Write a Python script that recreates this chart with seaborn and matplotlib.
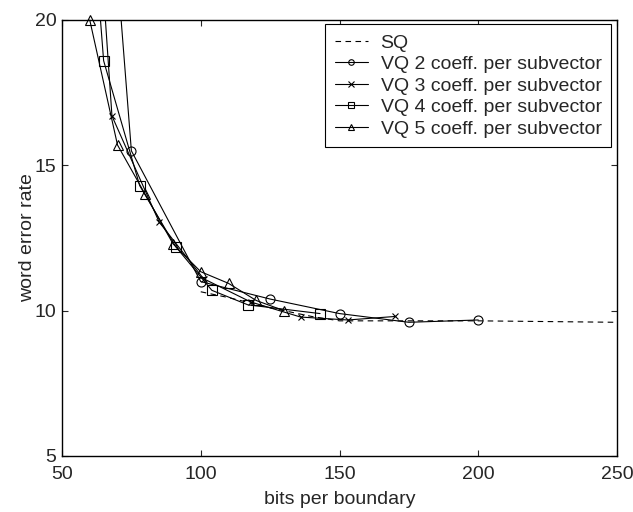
import matplotlib
matplotlib.use("Agg")
import matplotlib.pyplot as plt
import seaborn as sns
import pandas as pd

# ---- data ----
sq_x = [100, 110, 125, 140, 150, 175, 200, 250]
sq_y = [10.65, 10.45, 10.1, 9.8, 9.65, 9.65, 9.65, 9.6]

vq2_x = [65, 75, 100, 125, 150, 175, 200]
vq2_y = [27.7, 15.5, 11.0, 10.4, 9.9, 9.6, 9.68]

vq3_x = [63, 68, 85, 101, 118, 136, 153, 170]
vq3_y = [23.7, 16.7, 13.05, 11.1, 10.3, 9.78, 9.68, 9.8]

vq4_x = [62, 65, 78, 91, 104, 117, 143]
vq4_y = [22.3, 18.6, 14.3, 12.2, 10.7, 10.2, 9.9]

vq5_x = [60, 70, 80, 90, 100, 110, 120, 130]
vq5_y = [20.0, 15.7, 14.0, 12.3, 11.34, 10.94, 10.35, 10.0]

labels = ["SQ", "VQ 2 coeff. per subvector", "VQ 3 coeff. per subvector",
          "VQ 4 coeff. per subvector", "VQ 5 coeff. per subvector"]
x_ticks = [50, 100, 150, 200, 250]
y_ticks = [5, 10, 15, 20]

sns.set_style("ticks")
plt.rcParams["font.family"] = ["Liberation Sans", "DejaVu Sans"]
plt.rcParams["font.size"] = 14

fig = plt.figure(figsize=(6.33, 5.12), dpi=100)
ax = fig.add_axes([62 / 633, 1 - 456 / 512, 555 / 633, 436 / 512])

series = [
    (sq_x, sq_y, labels[0], None),
    (vq2_x, vq2_y, labels[1], "o"),
    (vq3_x, vq3_y, labels[2], "x"),
    (vq4_x, vq4_y, labels[3], "s"),
    (vq5_x, vq5_y, labels[4], "^"),
]

for xs, ys, lab, mk in series:
    df = pd.DataFrame({"x": xs, "y": ys})
    kw = dict(color="black", linewidth=0.8, estimator=None, sort=False, label=lab, ax=ax)
    if mk is None:
        sns.lineplot(data=df, x="x", y="y", linestyle=(0, (5, 4)), **kw)
    else:
        sns.lineplot(data=df, x="x", y="y", marker=mk, markersize=6.5 if mk != "x" else 5,
                     markerfacecolor="none", markeredgecolor="black",
                     markeredgewidth=0.8, **kw)

# last series: let the marker on the top edge show fully
ax.get_lines()[-1].set_clip_on(False)

ax.set_xlim(50, 250)
ax.set_ylim(5, 20)
ax.set_xticks(x_ticks)
ax.set_yticks(y_ticks)
ax.tick_params(direction="in", top=True, right=True, length=4, width=0.8, labelsize=14)
ax.tick_params(axis="x", pad=7)
ax.tick_params(axis="y", pad=4)
for s in ax.spines.values():
    s.set_visible(True)
    s.set_linewidth(1.0)
    s.set_color("black")

ax.set_xlabel("bits per boundary", fontsize=14, labelpad=6)
ax.set_ylabel("word error rate", fontsize=14, labelpad=-1)

leg = ax.legend(loc="upper right", bbox_to_anchor=(0.99, 0.99), borderaxespad=0,
                fontsize=14, frameon=True, fancybox=False, edgecolor="black",
                framealpha=1, handlelength=1.7, handletextpad=0.65,
                labelspacing=0.2, borderpad=0.5)
leg.get_frame().set_linewidth(0.8)
for h in leg.legend_handles:
    h.set_markersize(4)

fig.savefig("out.png", dpi=100)
